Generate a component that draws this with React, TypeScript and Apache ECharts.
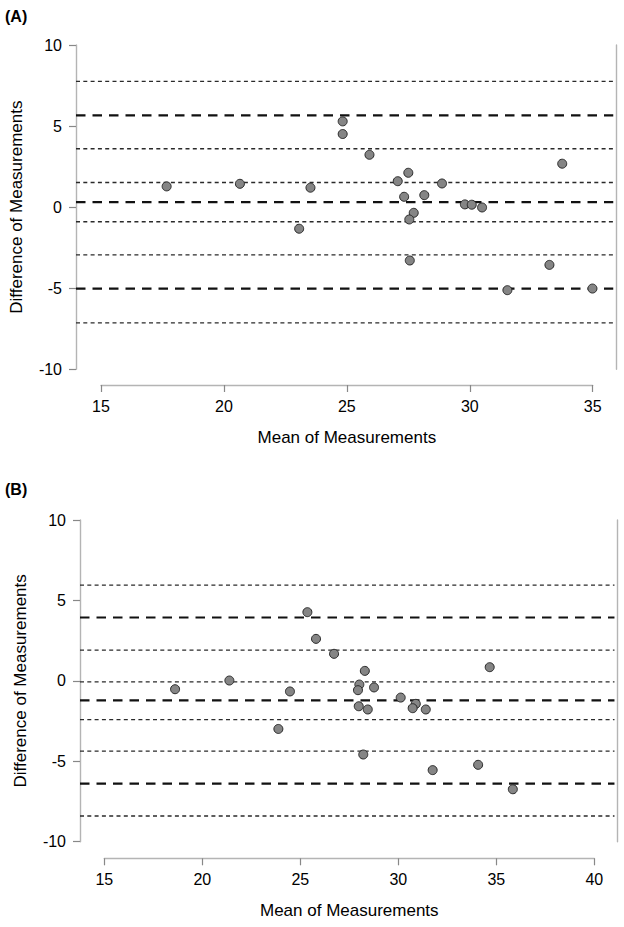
import React, { useEffect, useRef } from "react";
import * as echarts from "echarts";

// Panel A data
const meanA = [17.67, 20.65, 23.52, 23.06, 24.83, 24.83, 25.92, 27.5, 27.07, 28.87, 27.33, 28.15, 29.8, 30.08, 30.5, 27.72, 27.54, 27.56, 33.76, 33.24, 31.53, 34.99];
const diffA = [1.28, 1.44, 1.2, -1.33, 5.29, 4.51, 3.23, 2.12, 1.6, 1.46, 0.64, 0.74, 0.17, 0.15, -0.02, -0.35, -0.76, -3.29, 2.68, -3.56, -5.12, -5.02];
const limitsA = [5.66, 0.31, -5.02]; // upper LoA, bias, lower LoA (dashed)
const ciA = [7.76, 3.6, 1.52, -0.9, -2.94, -7.14]; // confidence limits (dotted)

// Panel B data
const meanB = [18.61, 21.38, 25.36, 25.8, 26.72, 24.47, 23.88, 28.29, 28.01, 27.94, 28.76, 27.98, 28.44, 28.21, 30.12, 30.89, 30.73, 31.4, 34.66, 31.75, 34.07, 35.84];
const diffB = [-0.52, 0.02, 4.27, 2.61, 1.68, -0.66, -2.99, 0.62, -0.23, -0.58, -0.41, -1.58, -1.78, -4.58, -1.04, -1.43, -1.7, -1.78, 0.85, -5.55, -5.22, -6.74];
const limitsB = [3.94, -1.22, -6.39];
const ciB = [5.95, 1.91, -0.06, -2.41, -4.37, -8.4];

// Axis ranges / ticks
const yRange = [-10, 10];
const yStep = 5;
const xTicksA = [15, 35];
const xTicksB = [15, 40];
const xStep = 5;
const xPlotA = [13.983, 35.968];
const xPlotB = [13.76, 41.19];

const panelLabels = ["(A)", "(B)"];
const xTitle = "Mean of Measurements";
const yTitle = "Difference of Measurements";

const FONT = "Liberation Sans, Arial, Helvetica, sans-serif";
const AXIS_GRAY = "#b4b4b4";

export default function App() {
  const ref = useRef<HTMLDivElement>(null);

  useEffect(() => {
    document.body.style.margin = "0";
    if (!ref.current) return;
    const chart = echarts.init(ref.current, null, { renderer: "svg" });

    const labelStyle = { fontFamily: FONT, fontSize: 16, color: "#000" };
    const nameStyle = { fontFamily: FONT, fontSize: 17, color: "#000" };

    const leftY = (gridIndex: number) => ({
      type: "value",
      gridIndex,
      position: "left",
      min: yRange[0],
      max: yRange[1],
      interval: yStep,
      name: yTitle,
      nameLocation: "middle",
      nameRotate: 90,
      nameGap: 51,
      nameTextStyle: nameStyle,
      axisLine: { show: true, lineStyle: { color: AXIS_GRAY, width: 1.4 } },
      axisTick: { show: true, length: 7, lineStyle: { color: "#888", width: 1.2 } },
      axisLabel: { ...labelStyle, margin: 14 },
      splitLine: { show: false },
    });
    const rightY = (gridIndex: number) => ({
      type: "value",
      gridIndex,
      position: "right",
      min: yRange[0],
      max: yRange[1],
      axisLine: { show: true, lineStyle: { color: AXIS_GRAY, width: 1.4 } },
      axisTick: { show: false },
      axisLabel: { show: false },
      splitLine: { show: false },
    });
    const hiddenY = (gridIndex: number) => ({
      type: "value",
      gridIndex,
      min: yRange[0],
      max: yRange[1],
      show: false,
    });
    const hiddenX = (gridIndex: number, r: number[]) => ({
      type: "value",
      gridIndex,
      min: r[0],
      max: r[1],
      show: false,
    });
    const visibleX = (gridIndex: number, r: number[], offset: number) => ({
      type: "value",
      gridIndex,
      min: r[0],
      max: r[1],
      interval: xStep,
      offset,
      name: xTitle,
      nameLocation: "middle",
      nameGap: 44,
      nameTextStyle: nameStyle,
      axisLine: { show: true, onZero: false, lineStyle: { color: AXIS_GRAY, width: 1.4 } },
      axisTick: { show: true, length: 7, lineStyle: { color: "#888", width: 1.2 } },
      axisLabel: { ...labelStyle, margin: 13 },
      splitLine: { show: false },
    });

    const dashed = { color: "#111", width: 2.2, type: [9.5, 7] as any };
    const dotted = { color: "#2a2a2a", width: 1.35, type: [4, 3.3] as any };

    const levelSeries = (
      levels: number[],
      style: any,
      xr: number[],
      xAxisIndex: number,
      yAxisIndex: number
    ) =>
      levels.map((v) => ({
        type: "line",
        xAxisIndex,
        yAxisIndex,
        data: [
          [xr[0], v],
          [xr[1] - (xr[1] - xr[0]) * 0.006, v],
        ],
        symbol: "none",
        lineStyle: style,
        silent: true,
        z: 2,
      }));

    const scatter = (xs: number[], ys: number[], xAxisIndex: number, yAxisIndex: number) => ({
      type: "scatter",
      xAxisIndex,
      yAxisIndex,
      data: xs.map((x, i) => [x, ys[i]]),
      symbol: "circle",
      symbolSize: 9,
      itemStyle: { color: "#858585", borderColor: "#2a2a2a", borderWidth: 1, opacity: 1 },
      z: 5,
    });

    const option: any = {
      animation: false,
      backgroundColor: "#fff",
      grid: [
        { left: 76, right: 7.5, top: 45, height: 324.3 },
        { left: 101, right: 31.3, top: 45, height: 324.3 },
        { left: 80, right: 6.3, top: 520, height: 321.7 },
        { left: 104.3, right: 29.7, top: 520, height: 321.7 },
      ],
      xAxis: [
        hiddenX(0, xPlotA),
        visibleX(1, xTicksA, 15.7),
        hiddenX(2, xPlotB),
        visibleX(3, xTicksB, 16.6),
      ],
      yAxis: [leftY(0), rightY(0), hiddenY(1), leftY(2), rightY(2), hiddenY(3)],
      graphic: [
        {
          type: "text",
          left: 5,
          top: 8,
          style: { text: panelLabels[0], font: `bold 16px ${FONT}`, fill: "#000" },
        },
        {
          type: "text",
          left: 5,
          top: 481,
          style: { text: panelLabels[1], font: `bold 16px ${FONT}`, fill: "#000" },
        },
      ],
      series: [
        ...levelSeries(ciA, dotted, xPlotA, 0, 0),
        ...levelSeries(limitsA, dashed, xPlotA, 0, 0),
        scatter(meanA, diffA, 0, 0),
        ...levelSeries(ciB, dotted, xPlotB, 2, 3),
        ...levelSeries(limitsB, dashed, xPlotB, 2, 3),
        scatter(meanB, diffB, 2, 3),
      ],
    };

    chart.setOption(option);
    return () => chart.dispose();
  }, []);

  return <div ref={ref} style={{ width: 624, height: 927 }} />;
}
